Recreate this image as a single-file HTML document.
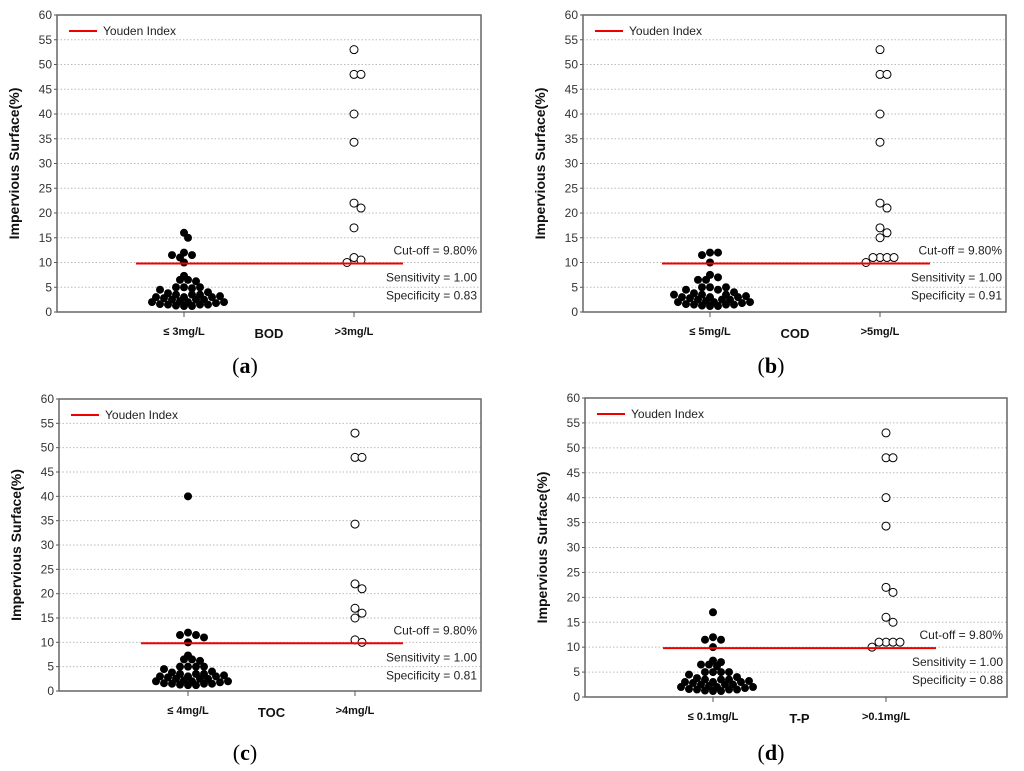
<!DOCTYPE html>
<html><head><meta charset="utf-8"><style>
html,body{margin:0;padding:0;background:#fff;}
svg{display:block;font-family:"Liberation Sans",sans-serif;}
</style></head><body>
<svg id="fig" width="1024" height="771" viewBox="0 0 1024 771"></svg>
<script>
const yTicks=[0,5,10,15,20,25,30,35,40,45,50,55,60];
const panelNames=["BOD","COD","TOC","T-P"];
const lowLabels=["≤ 3mg/L","≤ 5mg/L","≤ 4mg/L","≤ 0.1mg/L"];
const highLabels=[">3mg/L",">5mg/L",">4mg/L",">0.1mg/L"];
const captions=["(a)","(b)","(c)","(d)"];
const cutoffs=[9.8,9.8,9.8,9.8];
const sensitivities=["1.00","1.00","1.00","1.00"];
const specificities=["0.83","0.91","0.81","0.88"];
const cluster=[1.2,1.2,1.3,1.5,1.5,1.5,1.6,1.8,2,2,2,2.2,2.5,2.5,2.5,2.8,3,3,3,3.2,3.5,3.5,3.5,3.8,4,4.5,5,5];
const lowA=[16,15,12,11.5,11,11.5,10,7.3,6.5,6.5,6.2,5,4.8].concat(cluster);
const highA=[53,48,48,40,34.3,22,21,17,11,10.5,10];
const lowB=[12,12,11.5,10,7.5,7,6.5,6.5,5,4.5].concat(cluster);
const highB=[53,48,48,40,34.3,22,21,17,16,15,11,11,11,11,10];
const lowC=[40,12,11.5,11.5,11,10,7.3,6.5,6.5,6.2,5,5].concat(cluster);
const highC=[53,48,48,34.3,22,21,17,16,15,10.5,10];
const lowD=[17,12,11.5,11.5,10,7.3,7,6.5,6.5,6.2,5,5].concat(cluster);
const highD=[53,48,48,40,34.3,22,21,16,15,11,11,11,11,10];
const lowSeries=[lowA,lowB,lowC,lowD];
const highSeries=[highA,highB,highC,highD];

const geo=[
 {l:57,r:481,t:15,b:312,c1:184,c2:354,yl:136,yr:403,cap:[245,365]},
 {l:583,r:1006,t:15,b:312,c1:710,c2:880,yl:662,yr:930,cap:[771,365]},
 {l:59,r:481,t:399,b:691,c1:188,c2:355,yl:141,yr:403,cap:[245,752]},
 {l:585,r:1007,t:398,b:697,c1:713,c2:886,yl:663,yr:936,cap:[771,752]}
];
const NS="http://www.w3.org/2000/svg";
const svg=document.getElementById('fig');
function mk(tag,attrs,parent){const e=document.createElementNS(NS,tag);for(const k in attrs)e.setAttribute(k,attrs[k]);(parent||svg).appendChild(e);return e;}

function swarm(vals,cx,ys,minD,step){
  const placed=[];const out=[];
  vals.forEach(v=>{
    const y=ys(v);let chosen=cx;
    for(let k=0;k<40;k++){
      const off=(k===0?0:(k%2?1:-1)*Math.ceil(k/2)*step);
      const x=cx+off;
      if(placed.every(p=>(p[0]-x)**2+(p[1]-y)**2>=minD*minD)){chosen=x;break;}
    }
    placed.push([chosen,y]);out.push([chosen,y]);
  });
  return out;
}

geo.forEach((g,i)=>{
  const grp=mk('g',{});
  
  
  const ys=v=>g.b-(v/60)*(g.b-g.t);
  yTicks.forEach(t=>{
    if(t>0&&t<60){const gl=mk('line',{x1:g.l,x2:g.r,y1:ys(t),y2:ys(t),stroke:'#bbb','stroke-dasharray':'1.5,2','stroke-width':1},grp);
      }
    const tl=mk('text',{x:g.l-5,y:ys(t)+4,'text-anchor':'end','font-size':12,fill:'#333'},grp);tl.textContent=t;
    
    mk('line',{x1:g.l-3,x2:g.l,y1:ys(t),y2:ys(t),stroke:'#555'},grp);
  });
  const fr=mk('rect',{x:g.l,y:g.t,width:g.r-g.l,height:g.b-g.t,fill:'none',stroke:'#666','stroke-width':1.5},grp);
  
  [g.c1,g.c2].forEach(c=>mk('line',{x1:c,x2:c,y1:g.b,y2:g.b+5,stroke:'#555'},grp));
  const yt=mk('text',{x:0,y:0,transform:`translate(${g.l-38},${(g.t+g.b)/2}) rotate(-90)`,'text-anchor':'middle','font-size':14,'font-weight':'bold',fill:'#111'},grp);
  yt.textContent='Impervious Surface(%)';
  const ly=g.t+16;
  mk('line',{x1:g.l+12,x2:g.l+40,y1:ly,y2:ly,stroke:'#e00','stroke-width':2},grp);
  const lt=mk('text',{x:g.l+46,y:ly+4,'font-size':12,fill:'#222'},grp);lt.textContent='Youden Index';
  
  swarm(lowSeries[i],g.c1,ys,5.5,4).forEach(p=>{const c=mk('circle',{cx:p[0],cy:p[1],r:4,fill:'#000'},grp);
    });
  swarm(highSeries[i],g.c2,ys,7,3.5).forEach(p=>{const c=mk('circle',{cx:p[0],cy:p[1],r:4,fill:'#fff',stroke:'#000','stroke-width':1},grp);
    });
  const yl=mk('line',{x1:g.yl,x2:g.yr,y1:ys(cutoffs[i]),y2:ys(cutoffs[i]),stroke:'#e00','stroke-width':2},grp);
  
  const sx=g.r-4;
  [['Cut-off = '+cutoffs[i].toFixed(2)+'%',ys(cutoffs[i])-9],['Sensitivity = '+sensitivities[i],ys(cutoffs[i])+18],['Specificity = '+specificities[i],ys(cutoffs[i])+36]].forEach(s=>{
    const t=mk('text',{x:sx,y:s[1],'text-anchor':'end','font-size':12,fill:'#222'},grp);t.textContent=s[0];
    });
  const xl1=mk('text',{x:g.c1,y:g.b+23,'text-anchor':'middle','font-size':11,'font-weight':'bold',fill:'#111'},grp);xl1.textContent=lowLabels[i];
  
  const xl2=mk('text',{x:g.c2,y:g.b+23,'text-anchor':'middle','font-size':11,'font-weight':'bold',fill:'#111'},grp);xl2.textContent=highLabels[i];
  
  const xt=mk('text',{x:(g.c1+g.c2)/2,y:g.b+26,'text-anchor':'middle','font-size':13,'font-weight':'bold',fill:'#111'},grp);xt.textContent=panelNames[i];
  
  const cp=mk('text',{x:g.cap[0],y:g.cap[1]+8,'text-anchor':'middle','font-size':22,'font-family':'Liberation Serif, serif',fill:'#000'},grp);
  cp.innerHTML='(<tspan font-weight="bold">'+captions[i][1]+'</tspan>)';
  
});
</script>
</body></html>
